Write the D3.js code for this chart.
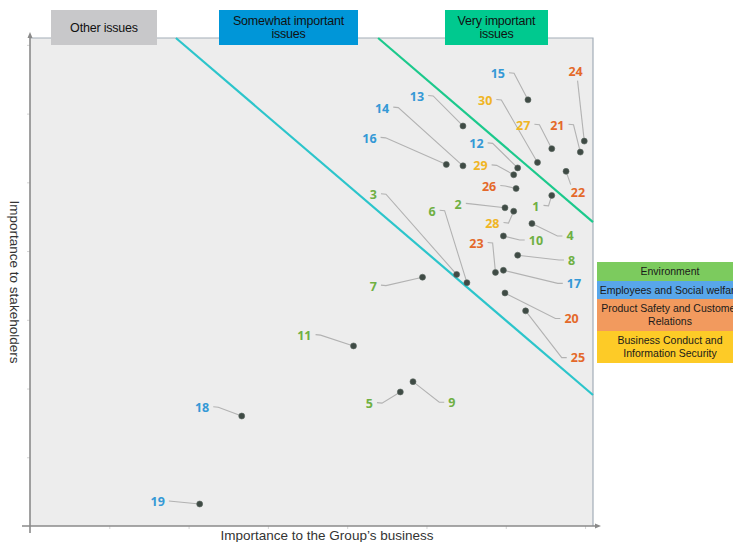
<!DOCTYPE html>
<html>
<head>
<meta charset="utf-8">
<script src="https://cdn.jsdelivr.net/npm/d3@7"></script>
<style>
  html, body { margin: 0; padding: 0; background: #ffffff; }
  svg { display: block; }
</style>
</head>
<body>
<div id="chart"></div>
<script>
// ---------- data ----------
const issueIds = [1,2,3,4,5,6,7,8,9,10,11,12,13,14,15,16,17,18,19,20,21,22,23,24,25,26,27,28,29,30];
const issueGroup = ["env","env","env","env","env","env","env","env","env","env","env",
                    "emp","emp","emp","emp","emp","emp","emp","emp",
                    "prod","prod","prod","prod","prod","prod","prod",
                    "biz","biz","biz","biz"];
// importance to business (x) and to stakeholders (y)
const businessImportance    = [6.58,5.99,5.38,6.33,4.67,5.51,4.95,6.15,4.83,5.97,4.08,6.15,5.46,5.46,6.28,5.25,5.97,2.67,2.14,5.99,6.94,6.76,5.87,6.99,6.25,6.13,6.58,6.10,6.10,6.40];
const stakeholderImportance = [4.81,4.63,3.66,4.40,1.95,3.54,3.62,3.94,2.10,4.22,2.62,5.21,5.82,5.24,6.20,5.26,3.72,1.60,0.32,3.39,5.44,5.16,3.69,5.60,3.13,4.91,5.49,4.58,5.11,5.29];
// label anchor positions (data units)
const labelX = [6.38,5.40,4.33,6.81,4.28,5.07,4.33,6.83,5.32,6.38,3.46,5.63,4.88,4.44,5.90,4.28,6.86,2.17,1.61,6.83,6.65,6.91,5.63,6.88,6.91,5.79,6.22,5.83,5.68,5.74];
const labelY = [4.65,4.68,4.82,4.22,1.78,4.58,3.49,3.87,1.80,4.16,2.77,5.56,6.25,6.08,6.58,5.64,3.53,1.72,0.35,3.02,5.83,4.85,4.11,6.61,2.45,4.94,5.83,4.40,5.24,6.19];
const leaderOverride = {22: "tl", 24: "b"};

const zoneLabels = [["Other issues"], ["Somewhat important", "issues"], ["Very important", "issues"]];
const legendLabels = [["Environment"], ["Employees and Social welfare"], ["Product Safety and Customer", "Relations"], ["Business Conduct and", "Information Security"]];
const axisTicks = [1,2,3,4,5,6,7];
// threshold lines (data units)
const thresholdSomewhat = [[1.84, 7.1], [7.1, 1.906]];
const thresholdVery     = [[4.39, 7.1], [7.1, 4.42]];

// ---------- styles ----------
const labelColor = {env: "#6fb043", emp: "#3599d6", prod: "#e4692a", biz: "#f0b524"};
const legendColor = ["#7ccb5e", "#58a6ea", "#f29a5e", "#fdcb27"];
const zoneColor = ["#c8c8ca", "#0096d8", "#00c98f"];

const W = 733, H = 542;
const svg = d3.select("#chart").append("svg").attr("width", W).attr("height", H);

const x = d3.scaleLinear().domain([0, 7.1]).range([30, 593]);
const y = d3.scaleLinear().domain([0, 7.1]).range([526, 38]);

// plot background
svg.append("rect").attr("x", x(0)).attr("y", y(7.1)).attr("width", x(7.1) - x(0)).attr("height", y(0) - y(7.1))
  .attr("fill", "#ededed");
// top and right border
svg.append("path").attr("d", `M${x(0)},${y(7.1)}H${x(7.1)}V${y(0)}`).attr("fill", "none").attr("stroke", "#a3adb8").attr("stroke-width", 1.2);

// axes
const xAxis = d3.axisBottom(x).tickValues(axisTicks).tickSize(3).tickFormat("");
const yAxis = d3.axisLeft(y).tickValues(axisTicks).tickSize(3).tickFormat("");
const gx = svg.append("g").attr("transform", `translate(0,${y(0)})`).call(xAxis);
const gy = svg.append("g").attr("transform", `translate(${x(0)},0)`).call(yAxis);
gx.select(".domain").remove(); gy.select(".domain").remove();
svg.selectAll(".tick line").attr("stroke", "#d4d4d4");

svg.append("line").attr("x1", 22).attr("x2", 597).attr("y1", y(0)).attr("y2", y(0)).attr("stroke", "#8a8a8a").attr("stroke-width", 1.6);
svg.append("path").attr("d", `M601,${y(0)}L595,${y(0)-2.5}L595,${y(0)+2.5}Z`).attr("fill", "#8a8a8a");
svg.append("line").attr("x1", x(0)).attr("x2", x(0)).attr("y1", 533).attr("y2", 36).attr("stroke", "#8a8a8a").attr("stroke-width", 1.6);
svg.append("path").attr("d", `M${x(0)},32L${x(0)-2.5},38L${x(0)+2.5},38Z`).attr("fill", "#8a8a8a");

// threshold lines
const lineGen = d3.line().x(d => x(d[0])).y(d => y(d[1]));
svg.append("path").attr("d", lineGen(thresholdSomewhat)).attr("stroke", "#2cc5cb").attr("stroke-width", 2.2).attr("fill", "none");
svg.append("path").attr("d", lineGen(thresholdVery)).attr("stroke", "#1cc98c").attr("stroke-width", 2.2).attr("fill", "none");

// zone header boxes
const zoneBoxes = [{x0: 51, x1: 157}, {x0: 219, x1: 358}, {x0: 445, x1: 548}];
zoneBoxes.forEach((b, i) => {
  svg.append("rect").attr("x", b.x0).attr("y", 10).attr("width", b.x1 - b.x0).attr("height", 35).attr("fill", zoneColor[i]);
  const lines = zoneLabels[i];
  const cy = 27.3;
  lines.forEach((t, j) => {
    svg.append("text").attr("x", (b.x0 + b.x1) / 2).attr("y", cy + (j - (lines.length - 1) / 2) * 13)
      .attr("dy", "0.35em").attr("text-anchor", "middle")
      .attr("font-family", "Liberation Sans, Arial, sans-serif").attr("font-size", 12.5).attr("letter-spacing", -0.2)
      .attr("fill", "#111").text(t);
  });
});

// data rows
const rows = issueIds.map((id, i) => ({
  id, group: issueGroup[i],
  px: x(businessImportance[i]), py: y(stakeholderImportance[i]),
  lx: x(labelX[i]), ly: y(labelY[i])
}));

// leaders
const leaders = svg.append("g");
rows.forEach(r => {
  const w = String(r.id).length * 3.6 + 1;
  let pts;
  const ov = leaderOverride[r.id];
  if (ov === "b") {
    pts = [[r.lx + 2, r.ly + 9], [r.px, r.py]];
  } else if (ov === "tl") {
    pts = [[r.lx - w + 1, r.ly - 8], [r.px, r.py]];
  } else if (r.px > r.lx + w + 3) {
    const sx = r.lx + w + 3, sy = r.ly - 1;
    pts = [[sx, sy], [sx + 5, sy + 0.5], [r.px, r.py]];
  } else if (r.px < r.lx - w - 3) {
    const sx = r.lx - w - 3, sy = r.ly;
    pts = [[sx, sy], [sx - 5, sy], [r.px, r.py]];
  } else {
    pts = r.py > r.ly ? [[r.lx, r.ly + 9], [r.px, r.py]] : [[r.lx, r.ly - 9], [r.px, r.py]];
  }
  leaders.append("path").attr("d", d3.line()(pts)).attr("fill", "none").attr("stroke", "#b2b2b2").attr("stroke-width", 1.1);
});

// dots
svg.append("g").selectAll("circle").data(rows).join("circle")
  .attr("cx", d => d.px).attr("cy", d => d.py).attr("r", 3)
  .attr("fill", "#3f4b45").attr("stroke", "#5b6660").attr("stroke-width", 0.6);

// labels
svg.append("g").selectAll("text").data(rows).join("text")
  .attr("x", d => d.lx).attr("y", d => d.ly).attr("dy", "0.36em").attr("text-anchor", "middle")
  .attr("font-family", "Open Sans, sans-serif").attr("font-weight", 700).attr("font-size", 12.5)
  .attr("fill", d => labelColor[d.group]).text(d => d.id);

// legend
const legendRows = [{y0: 262, y1: 281}, {y0: 281, y1: 299}, {y0: 299, y1: 331}, {y0: 331, y1: 363}];
legendRows.forEach((b, i) => {
  svg.append("rect").attr("x", 597).attr("y", b.y0).attr("width", 150).attr("height", b.y1 - b.y0).attr("fill", legendColor[i]);
  const lines = legendLabels[i];
  const cy = (b.y0 + b.y1) / 2;
  lines.forEach((t, j) => {
    svg.append("text").attr("x", 670).attr("y", cy + (j - (lines.length - 1) / 2) * 12.5)
      .attr("dy", "0.35em").attr("text-anchor", "middle")
      .attr("font-family", "Liberation Sans, Arial, sans-serif").attr("font-size", 10.5)
      .attr("fill", "#1a1a1a").text(t);
  });
});

// axis titles
svg.append("text").attr("x", 327).attr("y", 535.5).attr("dy", "0.35em").attr("text-anchor", "middle")
  .attr("font-family", "Liberation Sans, Arial, sans-serif").attr("font-size", 13.5).attr("fill", "#333")
  .text("Importance to the Group\u2019s business");
svg.append("text").attr("transform", "translate(15,282) rotate(90)").attr("dy", "0.35em").attr("text-anchor", "middle")
  .attr("font-family", "Liberation Sans, Arial, sans-serif").attr("font-size", 13.5).attr("fill", "#333")
  .text("Importance to stakeholders");
</script>
</body>
</html>
